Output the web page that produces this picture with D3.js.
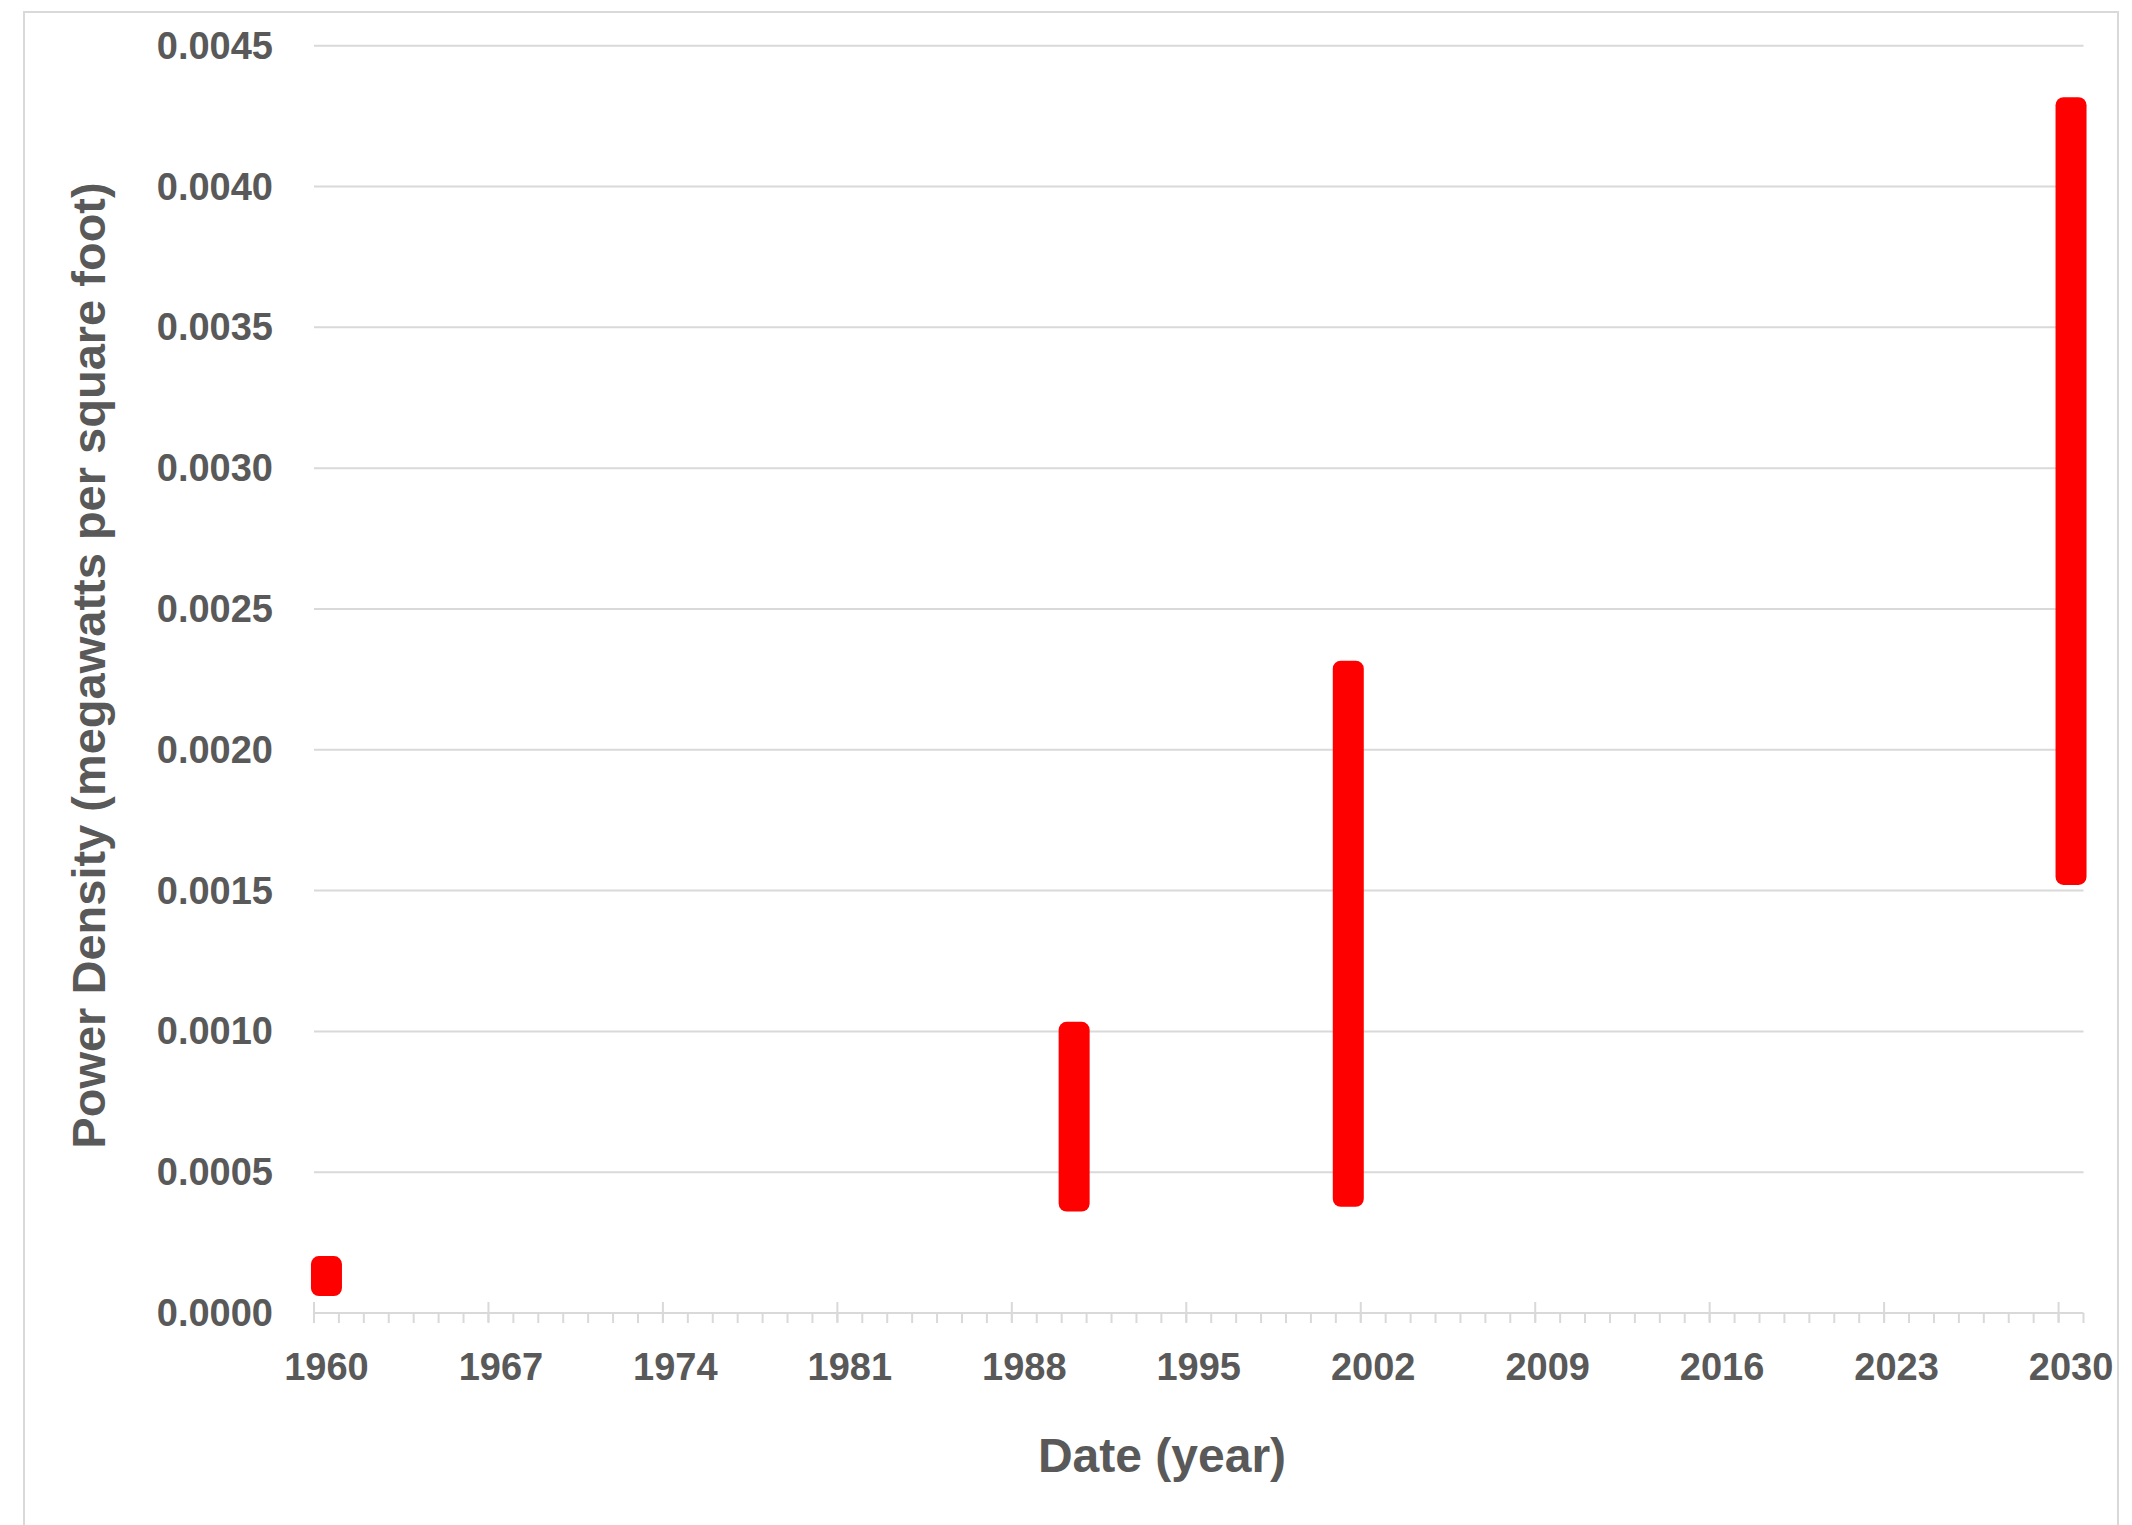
<!DOCTYPE html>
<html>
<head>
<meta charset="utf-8">
<script src="https://cdn.jsdelivr.net/npm/d3@7"></script>
<style>
  html, body { margin: 0; padding: 0; background: #fff; }
  svg { display: block; }
  text { font-family: "Liberation Sans", Arial, sans-serif; font-weight: bold; fill: #595959; }
</style>
</head>
<body>
<script>
// Data
const years = [1960, 1990, 2001, 2030];
const lowValues = [0.00006, 0.00036, 0.000377, 0.00152];
const highValues = [0.000202, 0.001034, 0.002316, 0.004317];
const yTicks = [0, 0.0005, 0.001, 0.0015, 0.002, 0.0025, 0.003, 0.0035, 0.004, 0.0045];
const xMajorTicks = [1960, 1967, 1974, 1981, 1988, 1995, 2002, 2009, 2016, 2023, 2030];
const xTitle = "Date (year)";
const yTitle = "Power Density (megawatts per square foot)";

const W = 2132, H = 1525;
const svg = d3.select("body").append("svg").attr("width", W).attr("height", H);

// chart border
svg.append("rect").attr("x", 24).attr("y", 12).attr("width", 2094).attr("height", 1530)
  .attr("fill", "none").attr("stroke", "#d9d9d9").attr("stroke-width", 2);

const x = d3.scaleLinear().domain([1960, 2031]).range([314, 2083.5]);
const y = d3.scaleLinear().domain([0, 0.0045]).range([1313, 45.7]);

// gridlines
svg.append("g").selectAll("line").data(yTicks.slice(1)).join("line")
  .attr("x1", x(1960)).attr("x2", x(2031))
  .attr("y1", d => y(d)).attr("y2", d => y(d))
  .attr("stroke", "#d9d9d9").attr("stroke-width", 2);

// y tick labels
svg.append("g").selectAll("text").data(yTicks).join("text")
  .attr("x", 273).attr("y", d => y(d))
  .attr("text-anchor", "end").attr("dominant-baseline", "central")
  .style("font-size", "38px")
  .text(d => d.toFixed(4));

// x axis line
svg.append("line").attr("x1", x(1960)).attr("x2", x(2031))
  .attr("y1", y(0)).attr("y2", y(0)).attr("stroke", "#d9d9d9").attr("stroke-width", 2);

// minor ticks
const minorYears = d3.range(1960, 2032);
svg.append("g").selectAll("line").data(minorYears).join("line")
  .attr("x1", d => x(d)).attr("x2", d => x(d))
  .attr("y1", y(0)).attr("y2", y(0) + 10)
  .attr("stroke", "#d9d9d9").attr("stroke-width", 2);
// major ticks
svg.append("g").selectAll("line").data(xMajorTicks).join("line")
  .attr("x1", d => x(d)).attr("x2", d => x(d))
  .attr("y1", y(0) - 11).attr("y2", y(0) + 9)
  .attr("stroke", "#d9d9d9").attr("stroke-width", 2);

// x tick labels (centered in year interval)
svg.append("g").selectAll("text").data(xMajorTicks).join("text")
  .attr("x", d => x(d + 0.5)).attr("y", 1380)
  .attr("text-anchor", "middle")
  .style("font-size", "38px")
  .text(d => d);

// bars
const data = years.map((yr, i) => ({ yr, lo: lowValues[i], hi: highValues[i] }));
const bw = 31;
svg.append("g").selectAll("rect").data(data).join("rect")
  .attr("x", d => x(d.yr + 0.5) - bw / 2)
  .attr("width", bw)
  .attr("y", d => y(d.hi))
  .attr("height", d => y(d.lo) - y(d.hi))
  .attr("rx", 8).attr("ry", 8)
  .attr("fill", "#ff0000");

// axis titles
svg.append("text").attr("x", 1162).attr("y", 1472).attr("text-anchor", "middle")
  .style("font-size", "48px").text(xTitle);
svg.append("text").attr("transform", "translate(105,665.5) rotate(-90)")
  .attr("text-anchor", "middle").style("font-size", "47px").text(yTitle);
</script>
</body>
</html>
